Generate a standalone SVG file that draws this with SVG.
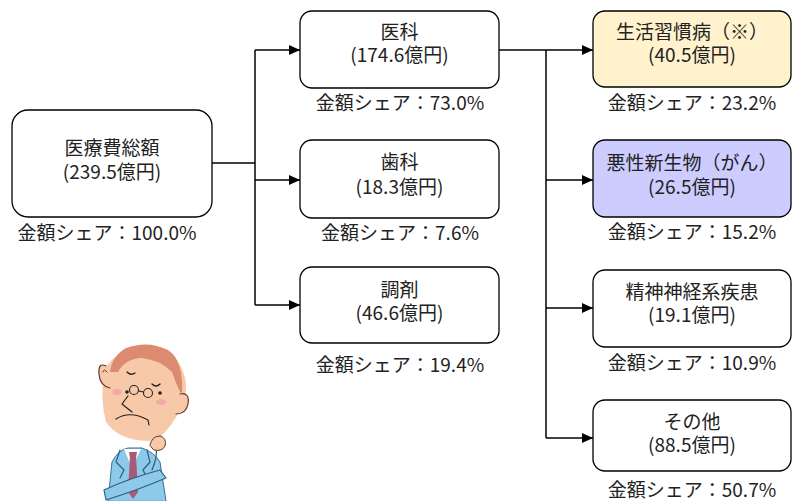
<svg xmlns="http://www.w3.org/2000/svg" width="797" height="501" viewBox="0 0 797 501">
  <defs>
    <marker id="arrow" markerWidth="12" markerHeight="10" refX="11" refY="5" orient="auto" markerUnits="userSpaceOnUse">
      <path d="M0,0 L11,5 L0,10 Z" fill="#000"/>
    </marker>
    <style>
      .box { fill: #fff; stroke: #000; stroke-width: 1.3; }
      .life { fill: #FFF2CC; }
      .cancer { fill: #CCCCFF; }
      .t { font-family: "Noto Sans CJK JP", "Noto Sans", sans-serif; font-size: 19px; fill: #222; text-anchor: middle; }
      .conn { fill: none; stroke: #000; stroke-width: 1.5; }
    </style>
  </defs>
  <rect width="797" height="501" fill="#fff"/>

  <!-- connectors -->
  <g id="connectors">
    <path class="conn" d="M212,163 H255"/>
    <path class="conn" d="M255,50 V305"/>
    <path class="conn" d="M255,50 H300" marker-end="url(#arrow)"/>
    <path class="conn" d="M255,180 H300" marker-end="url(#arrow)"/>
    <path class="conn" d="M255,305 H300" marker-end="url(#arrow)"/>
    <path class="conn" d="M499,50 H546"/>
    <path class="conn" d="M546,50 V438"/>
    <path class="conn" d="M546,50 H593" marker-end="url(#arrow)"/>
    <path class="conn" d="M546,180 H593" marker-end="url(#arrow)"/>
    <path class="conn" d="M546,308 H593" marker-end="url(#arrow)"/>
    <path class="conn" d="M546,438 H593" marker-end="url(#arrow)"/>
  </g>

  <!-- total -->
  <g id="total">
    <rect class="box" x="12" y="110" width="200" height="107" rx="16"/>
    <text class="t" x="112" y="155">医療費総額</text>
    <text class="t" x="112" y="179">(239.5億円)</text>
    <text class="t" x="107" y="240">金額シェア：100.0%</text>
  </g>

  <g id="ika">
    <rect class="box" x="300" y="11" width="199" height="77" rx="12"/>
    <text class="t" x="399.5" y="39">医科</text>
    <text class="t" x="399.5" y="62">(174.6億円)</text>
    <text class="t" x="400" y="110">金額シェア：73.0%</text>
  </g>

  <g id="shika">
    <rect class="box" x="300" y="140" width="199" height="78" rx="12"/>
    <text class="t" x="399.5" y="169">歯科</text>
    <text class="t" x="399.5" y="194">(18.3億円)</text>
    <text class="t" x="400" y="240">金額シェア：7.6%</text>
  </g>

  <g id="chozai">
    <rect class="box" x="300" y="267" width="199" height="76" rx="12"/>
    <text class="t" x="399.5" y="297">調剤</text>
    <text class="t" x="399.5" y="320">(46.6億円)</text>
    <text class="t" x="400" y="372">金額シェア：19.4%</text>
  </g>

  <g id="lifestyle">
    <rect class="box life" x="593" y="11" width="198" height="76" rx="12"/>
    <text class="t" x="692" y="39">生活習慣病（※）</text>
    <text class="t" x="692" y="62">(40.5億円)</text>
    <text class="t" x="692" y="110">金額シェア：23.2%</text>
  </g>

  <g id="cancer">
    <rect class="box cancer" x="593" y="140" width="198" height="77" rx="12"/>
    <text class="t" x="692" y="170">悪性新生物（がん）</text>
    <text class="t" x="692" y="194">(26.5億円)</text>
    <text class="t" x="692" y="239">金額シェア：15.2%</text>
  </g>

  <g id="mental">
    <rect class="box" x="593" y="270" width="198" height="77" rx="12"/>
    <text class="t" x="692" y="299">精神神経系疾患</text>
    <text class="t" x="692" y="322">(19.1億円)</text>
    <text class="t" x="692" y="370">金額シェア：10.9%</text>
  </g>

  <g id="other">
    <rect class="box" x="593" y="400" width="198" height="71" rx="12"/>
    <text class="t" x="692" y="429">その他</text>
    <text class="t" x="692" y="452">(88.5億円)</text>
    <text class="t" x="692" y="497">金額シェア：50.7%</text>
  </g>

  <!-- pondering man -->
  <g id="man" stroke-linecap="round" stroke-linejoin="round">
    <!-- suit -->
    <path d="M108,501 L112,462 Q118,450 128,448 L142,448 Q154,452 160,462 L166,501 Z" fill="#8DC9E8" stroke="#3a6f8f" stroke-width="1"/>
    <!-- shirt -->
    <path d="M124,449 L132,468 L141,449 Z" fill="#fff"/>
    <!-- tie -->
    <path d="M130,456 L136,456 L138,492 L133,499 L128,492 Z" fill="#A85A78"/>
    <path d="M129,452 L137,452 L136,458 L130,458 Z" fill="#A85A78"/>
    <!-- lapels -->
    <path d="M120,450 L116,462 L124,470 L120,478" fill="none" stroke="#2f5f80" stroke-width="1.2"/>
    <path d="M147,450 L150,462 L143,470 L147,478" fill="none" stroke="#2f5f80" stroke-width="1.2"/>
    <!-- arm across -->
    <path d="M104,490 Q130,478 160,470 L166,478 Q138,490 106,500 Z" fill="#8DC9E8" stroke="#2f5f80" stroke-width="1.2"/>
    <path d="M152,470 Q158,456 156,446" fill="none" stroke="#2f5f80" stroke-width="1.2"/>
    <!-- face -->
    <path d="M104,372 Q100,400 106,422 Q118,440 148,441 Q160,440 165,432 Q178,418 184,400 Q190,380 178,362 Q160,346 130,350 Q110,356 104,372 Z" fill="#F7C9A8"/>
    <!-- ears -->
    <path d="M106,366 Q98,362 99,374 Q100,386 110,388" fill="#F7C9A8" stroke="#5a3a2a" stroke-width="1.2"/>
    <path d="M103,372 Q104,368 107,372" fill="none" stroke="#5a3a2a" stroke-width="1"/>
    <path d="M180,394 Q190,392 188,404 Q186,414 176,414" fill="#F7C9A8" stroke="#5a3a2a" stroke-width="1.2"/>
    <!-- hair -->
    <path d="M110,372 Q112,356 126,348 Q148,340 168,350 Q184,360 182,396 Q176,384 172,372 Q160,360 142,358 Q126,358 118,372 Z" fill="#DC8A70"/>
    <!-- blush -->
    <ellipse cx="117" cy="392" rx="5" ry="3" fill="#F2A3A3" opacity="0.8"/>
    <ellipse cx="161" cy="402" rx="5" ry="3" fill="#F2A3A3" opacity="0.8"/>
    <!-- eyes -->
    <path d="M127,372 Q131,376 135,373" fill="none" stroke="#222" stroke-width="1.3"/>
    <path d="M152,384 Q156,388 160,384" fill="none" stroke="#222" stroke-width="1.3"/>
    <circle cx="127" cy="392" r="1.8" fill="#222"/>
    <circle cx="160" cy="393" r="1.8" fill="#222"/>
    <!-- glasses -->
    <circle cx="134" cy="390" r="4.5" fill="none" stroke="#222" stroke-width="1.1"/>
    <circle cx="148" cy="393" r="4.5" fill="none" stroke="#222" stroke-width="1.1"/>
    <path d="M138.5,391 L143.5,392" stroke="#222" stroke-width="1.1"/>
    <!-- nose -->
    <path d="M128,396 L122,404 L132,412" fill="none" stroke="#222" stroke-width="1.2"/>
    <!-- mouth -->
    <path d="M116,419 Q130,410 148,420 L149,425" fill="none" stroke="#222" stroke-width="1.2"/>
    <!-- fist -->
    <path d="M150,445 Q152,436 160,436 Q167,438 165,446 Q162,452 154,450 Z" fill="#F7C9A8" stroke="#5a3a2a" stroke-width="1"/>
  </g>
</svg>
